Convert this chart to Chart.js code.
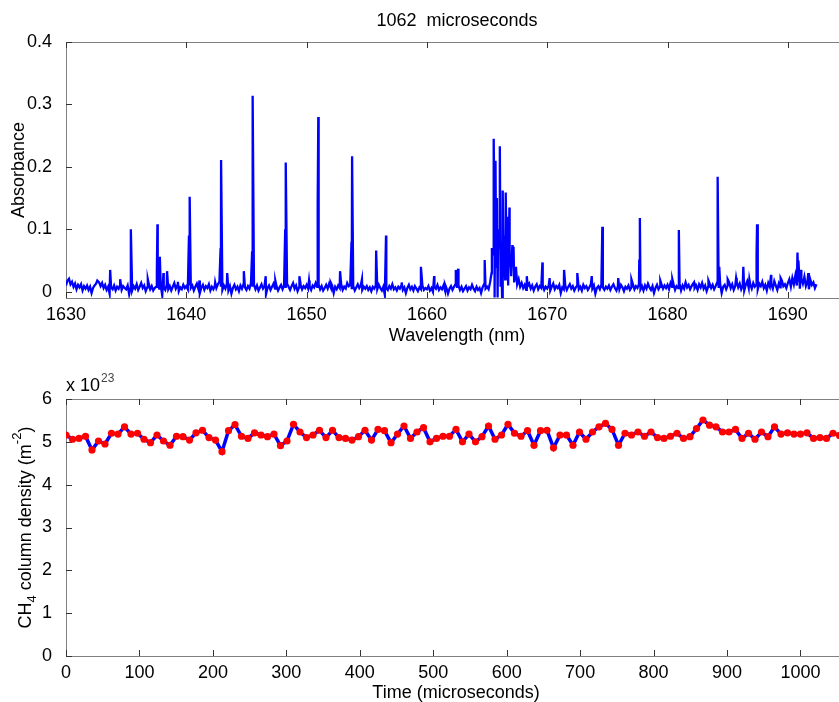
<!DOCTYPE html>
<html>
<head>
<meta charset="utf-8">
<title>Absorbance spectrum and CH4 column density</title>
<script src="https://cdn.jsdelivr.net/npm/chart.js@4.4.1/dist/chart.umd.min.js"></script>
<style>
  html, body { margin: 0; padding: 0; width: 839px; height: 702px; overflow: hidden; background: #fff; }
  canvas { position: absolute; left: 0; }
  #spectrum { top: 0; }
  #density { top: 350px; }
</style>
</head>
<body>
<canvas id="spectrum" width="850" height="350"></canvas>
<canvas id="density" width="850" height="354"></canvas>
<script>
// ---- top panel: absorbance spectrum ----
const spectrumTitle = '1062  microseconds'
const baselineStart = 1630
const baselineStep = 0.125
// noisy baseline, one value every 0.125 nm from 1630 nm (20 values = 2.5 nm per row)
const baselineAbs = [
  0.010, 0.018, 0.021, 0.012, 0.016, 0.008, 0.013, 0.004, 0.011, 0.007, 0.012, 0.002, 0.009, 0.005, 0.010, 0.003, 0.008, -0.002, 0.006, 0.010,
  0.013, 0.018, 0.015, 0.009, 0.014, 0.006, 0.011, 0.003, 0.008, -0.003, 0.007, 0.004, 0.010, 0.002, 0.008, 0.005, 0.011, 0.003, 0.009, 0.006,
  0.004, 0.010, -0.004, 0.007, 0.002, 0.009, 0.005, 0.012, 0.003, 0.008, 0.014, 0.006, 0.010, 0.001, 0.007, 0.013, 0.004, 0.009, 0.002, 0.006,
  0.008, 0.012, 0.005, 0.010, -0.006, 0.007, 0.003, 0.011, 0.004, 0.009, 0.002, 0.008, 0.014, 0.005, 0.010, 0.001, 0.007, 0.004, 0.011, 0.006,
  0.009, 0.004, 0.012, 0.006, 0.010, 0.002, 0.008, 0.013, 0.005, -0.002, 0.007, 0.011, 0.003, 0.009, 0.006, 0.012, 0.002, 0.008, 0.004, 0.010,
  0.006, 0.012, 0.016, 0.008, 0.003, 0.010, 0.005, 0.013, 0.002, 0.009, -0.003, 0.006, 0.011, 0.004, 0.008, 0.001, 0.010, 0.005, 0.012, 0.007,
  0.003, 0.009, 0.005, 0.014, 0.008, 0.011, 0.004, 0.010, 0.002, 0.007, 0.012, 0.005, 0.009, -0.004, 0.006, 0.010, 0.003, 0.008, 0.013, 0.005,
  0.009, 0.002, 0.007, 0.011, 0.004, 0.010, 0.006, 0.013, 0.008, 0.003, 0.009, 0.014, 0.005, 0.010, 0.001, 0.007, 0.012, 0.004, 0.009, 0.006,
  0.011, 0.005, 0.009, 0.003, 0.010, 0.007, 0.014, 0.008, 0.012, 0.004, 0.009, 0.002, 0.006, 0.011, 0.005, 0.013, 0.007, 0.010, -0.002, 0.008,
  0.004, 0.010, 0.006, 0.012, 0.003, 0.008, 0.005, 0.014, 0.009, 0.011, 0.004, 0.009, 0.002, 0.007, 0.012, 0.006, 0.010, 0.003, 0.008, 0.005,
  0.009, 0.003, 0.007, 0.001, 0.008, 0.005, 0.010, 0.004, 0.011, 0.006, 0.002, 0.008, -0.005, 0.006, 0.003, 0.009, 0.005, 0.012, 0.004, 0.007,
  0.002, 0.008, 0.005, 0.010, 0.003, 0.007, -0.002, 0.006, 0.011, 0.004, 0.008, 0.002, 0.009, 0.005, 0.001, 0.007, 0.004, 0.010, 0.003, 0.006,
  0.004, 0.009, 0.002, 0.006, 0.000, 0.008, 0.005, 0.011, 0.003, 0.007, 0.004, 0.010, 0.002, 0.006, -0.003, 0.005, 0.009, 0.003, 0.008, 0.012,
  0.006, 0.010, 0.003, 0.008, 0.001, 0.005, 0.009, 0.002, 0.007, 0.004, 0.011, 0.005, 0.001, 0.008, 0.003, 0.006, -0.002, 0.007, 0.012, 0.005,
  0.008, 0.004, 0.015, 0.030, 0.060, -0.009, 0.040, -0.009, 0.070, 0.010, -0.009, 0.045, 0.020, 0.055, 0.010, 0.040, 0.025, 0.045, 0.015, 0.030,
  0.012, 0.020, 0.008, 0.014, 0.006, 0.011, 0.003, 0.009, 0.013, 0.005, 0.010, 0.002, 0.008, 0.012, 0.004, 0.009, 0.006, 0.011, 0.003, 0.008,
  0.005, 0.010, 0.002, 0.008, 0.013, 0.004, 0.009, 0.006, 0.011, -0.002, 0.007, 0.004, 0.010, 0.003, 0.008, 0.012, 0.005, 0.009, 0.002, 0.007,
  0.010, 0.004, 0.008, 0.002, 0.011, 0.006, 0.009, 0.003, 0.007, 0.012, 0.005, 0.010, -0.003, 0.006, 0.009, 0.004, 0.011, 0.007, 0.003, 0.008,
  0.005, 0.010, 0.003, 0.008, 0.012, 0.006, 0.002, 0.009, 0.004, 0.011, 0.007, 0.001, 0.008, 0.005, 0.010, 0.003, 0.007, 0.012, 0.004, 0.009,
  0.006, 0.012, 0.004, 0.009, 0.002, 0.010, 0.005, 0.013, 0.007, 0.003, 0.009, -0.002, 0.006, 0.011, 0.004, 0.008, 0.012, 0.005, 0.010, 0.006,
  0.011, 0.004, 0.014, 0.008, 0.012, 0.003, 0.009, 0.006, 0.013, 0.002, 0.010, 0.005, 0.015, 0.007, 0.011, 0.004, 0.009, 0.013, 0.006, 0.010,
  0.003, 0.012, 0.007, 0.014, 0.005, 0.010, 0.001, 0.008, 0.013, 0.006, 0.011, 0.004, 0.009, 0.015, 0.006, 0.012, -0.002, 0.008, 0.011, 0.004,
  0.010, 0.015, 0.006, 0.012, 0.003, 0.009, 0.016, 0.007, 0.013, 0.004, 0.010, 0.002, 0.011, 0.017, 0.006, 0.012, 0.005, 0.014, 0.008, 0.011,
  0.004, 0.013, 0.009, 0.016, 0.006, 0.011, 0.002, 0.014, 0.008, 0.012, 0.005, 0.017, 0.010, 0.003, 0.013, 0.007, 0.018, 0.009, 0.012, 0.006,
  0.014, 0.020, 0.008, 0.022, 0.012, 0.026, 0.010, 0.018, 0.005, 0.021, 0.013, 0.024, 0.009, 0.016, 0.004, 0.019, 0.011, 0.015, 0.006, 0.012
]
// absorption lines (position in nm, peak absorbance)
const lineNm = [
  1632.6, 1633.67, 1634.5, 1635.39, 1636.8, 1637.55, 1637.6, 1637.8, 1638.1, 1638.4,
  1639.3, 1640.22, 1640.28, 1641.1, 1642.4, 1642.85, 1642.89, 1643.4, 1644.78, 1645.47,
  1645.53, 1646.6, 1647.4, 1648.22, 1648.28, 1649.4, 1650.2, 1650.92, 1650.97, 1652.0,
  1652.78, 1653.73, 1653.78, 1654.6, 1655.78, 1656.6, 1657.9, 1659.5, 1660.6, 1661.5,
  1662.4, 1662.6, 1664.8, 1665.4, 1665.55, 1665.62, 1665.7, 1665.82, 1665.92, 1666.06,
  1666.15, 1666.3, 1666.4, 1666.55, 1666.65, 1666.7, 1666.86, 1666.95, 1667.1, 1667.2,
  1667.4, 1668.3, 1669.6, 1670.2, 1671.4, 1672.5, 1673.7, 1674.58, 1675.9, 1677.0,
  1677.65, 1677.7, 1679.4, 1680.4, 1680.94, 1682.2, 1683.4, 1684.14, 1684.19, 1684.3,
  1685.0, 1685.7, 1686.3, 1686.8, 1687.4, 1687.44, 1688.6, 1689.4, 1690.8, 1690.88,
  1691.1, 1691.7
]
const lineAbs = [
  0.018, 0.035, 0.020, 0.100, 0.020, 0.030, 0.108, 0.056, 0.030, 0.033,
  0.016, 0.090, 0.152, 0.018, 0.015, 0.070, 0.211, 0.030, 0.033, 0.065,
  0.314, 0.025, 0.018, 0.100, 0.207, 0.025, 0.018, 0.140, 0.280, 0.015,
  0.033, 0.080, 0.217, 0.020, 0.066, 0.090, 0.015, 0.040, 0.025, 0.012,
  0.035, 0.037, 0.051, 0.070, 0.245, 0.120, 0.210, 0.150, 0.100, 0.233,
  0.080, 0.162, 0.090, 0.159, 0.060, 0.120, 0.135, 0.060, 0.075, 0.072,
  0.040, 0.025, 0.047, 0.022, 0.035, 0.030, 0.025, 0.104, 0.022, 0.020,
  0.050, 0.118, 0.018, 0.020, 0.099, 0.015, 0.018, 0.070, 0.184, 0.040,
  0.020, 0.022, 0.040, 0.020, 0.060, 0.108, 0.027, 0.022, 0.063, 0.050,
  0.035, 0.030
]
const wavelengthTicks = [1630, 1640, 1650, 1660, 1670, 1680, 1690]
const absorbanceTicks = [0, 0.1, 0.2, 0.3, 0.4]

// ---- bottom panel: CH4 column density, units of 10^23 m^-2 ----
const densityExponent = 23
const timeStep = 8.85
const columnDensity = [
  5.16, 5.06, 5.08, 5.13, 4.81, 5.02, 4.95, 5.20, 5.18, 5.35,
  5.18, 5.20, 5.06, 4.98, 5.16, 5.02, 4.92, 5.13, 5.12, 5.04,
  5.21, 5.27, 5.10, 5.04, 4.77, 5.26, 5.40, 5.13, 5.08, 5.21,
  5.16, 5.12, 5.18, 4.91, 5.02, 5.41, 5.23, 5.10, 5.16, 5.27,
  5.10, 5.27, 5.10, 5.08, 5.04, 5.12, 5.27, 5.04, 5.29, 5.26,
  4.98, 5.18, 5.37, 5.08, 5.23, 5.33, 5.00, 5.08, 5.13, 5.13,
  5.29, 5.00, 5.18, 5.00, 5.12, 5.37, 5.06, 5.16, 5.41, 5.20,
  5.13, 5.26, 4.92, 5.26, 5.27, 4.86, 5.16, 5.16, 4.92, 5.23,
  5.06, 5.23, 5.35, 5.43, 5.29, 4.92, 5.20, 5.16, 5.23, 5.13,
  5.23, 5.10, 5.08, 5.13, 5.20, 5.08, 5.12, 5.31, 5.51, 5.39,
  5.35, 5.23, 5.23, 5.29, 5.08, 5.20, 5.06, 5.23, 5.12, 5.35,
  5.18, 5.21, 5.18, 5.18, 5.21, 5.08, 5.10, 5.08, 5.20, 5.15,
  5.18
]
const timeTicks = [0, 100, 200, 300, 400, 500, 600, 700, 800, 900, 1000]
const densityTicks = [0, 1, 2, 3, 4, 5, 6]

const FAMILY = '"Liberation Sans", Arial, Helvetica, sans-serif'
Chart.defaults.font.family = FAMILY
Chart.defaults.font.size = 18
Chart.defaults.color = '#000'

// MATLAB-like box with inward ticks on all sides, drawn under the data
const boxAxes = {
  id: 'boxAxes',
  beforeDatasetsDraw(chart) {
    const { ctx, chartArea: a, scales } = chart
    ctx.save()
    ctx.lineWidth = 1
    ctx.strokeStyle = '#808080'
    ctx.strokeRect(Math.round(a.left) + 0.5, Math.round(a.top) + 0.5, Math.round(a.width), Math.round(a.height))
    ctx.strokeStyle = '#333'
    ctx.beginPath()
    scales.x.ticks.forEach(t => {
      const px = Math.round(scales.x.getPixelForValue(t.value)) + 0.5
      ctx.moveTo(px, a.bottom); ctx.lineTo(px, a.bottom - 6)
      ctx.moveTo(px, a.top); ctx.lineTo(px, a.top + 6)
    })
    scales.y.ticks.forEach(t => {
      const py = Math.round(scales.y.getPixelForValue(t.value)) + 0.5
      ctx.moveTo(a.left, py); ctx.lineTo(a.left + 6, py)
      ctx.moveTo(a.right, py); ctx.lineTo(a.right - 6, py)
    })
    ctx.stroke()
    ctx.restore()
  }
}

const spectrumCaption = {
  id: 'spectrumCaption',
  afterDraw(chart) {
    const { ctx, chartArea: a } = chart
    ctx.save()
    ctx.font = '18px ' + FAMILY
    ctx.fillStyle = '#000'
    ctx.textAlign = 'center'
    ctx.textBaseline = 'middle'
    ctx.fillText(spectrumTitle, (a.left + a.right) / 2, 21)
    ctx.restore()
  }
}

// exponent label and the y title with sub/superscripts
const densityCaption = {
  id: 'densityCaption',
  afterDraw(chart) {
    const { ctx, chartArea: a } = chart
    const big = '18px ' + FAMILY
    const small = '13px ' + FAMILY
    ctx.save()
    ctx.fillStyle = '#000'
    ctx.font = big
    ctx.fillText('x 10', a.left, a.top - 8)
    const w = ctx.measureText('x 10').width
    ctx.font = '12px ' + FAMILY
    ctx.fillStyle = '#444'
    ctx.fillText(String(densityExponent), a.left + w + 1, a.top - 17)

    ctx.fillStyle = '#000'
    const parts = [['CH', 0, big], ['4', 6, small], [' column density (m', 0, big], ['-2', -9, small], [')', 0, big]]
    let total = 0
    parts.forEach(p => { ctx.font = p[2]; total += ctx.measureText(p[0]).width })
    ctx.translate(26, (a.top + a.bottom) / 2)
    ctx.rotate(-Math.PI / 2)
    ctx.textBaseline = 'middle'
    let x = -total / 2
    parts.forEach(p => {
      ctx.font = p[2]
      ctx.fillText(p[0], x, p[1])
      x += ctx.measureText(p[0]).width
    })
    ctx.restore()
  }
}

const spectrumPoints = baselineAbs
  .map((v, i) => ({ x: baselineStart + i * baselineStep, y: v }))
  .concat(lineNm.map((nm, i) => ({ x: nm, y: lineAbs[i] })))
  .sort((p, q) => p.x - q.x)

new Chart(document.getElementById('spectrum'), {
  type: 'line',
  data: {
    datasets: [{
      data: spectrumPoints,
      borderColor: '#0000ff',
      borderWidth: 2.3,
      pointRadius: 0,
      tension: 0,
    }],
  },
  options: {
    responsive: false,
    animation: false,
    layout: { padding: { top: 42, right: 2, bottom: 3, left: 0 } },
    plugins: { legend: { display: false }, tooltip: { enabled: false } },
    scales: {
      x: {
        type: 'linear', min: 1630, max: 1695,
        grid: { display: false }, border: { display: false },
        ticks: { padding: -2, maxRotation: 0, callback: v => String(v) },
        afterBuildTicks: s => { s.ticks = wavelengthTicks.map(v => ({ value: v })) },
        afterFit: s => { s.height = 49 },
        title: { display: true, text: 'Wavelength (nm)', padding: 0 },
      },
      y: {
        min: -0.01, max: 0.4,
        grid: { display: false }, border: { display: false },
        ticks: { padding: 6, callback: v => String(v) },
        afterBuildTicks: s => { s.ticks = absorbanceTicks.map(v => ({ value: v })) },
        afterFit: s => { s.width = 66 },
        title: { display: true, text: 'Absorbance', padding: { top: 8, bottom: 0 } },
      },
    },
  },
  plugins: [boxAxes, spectrumCaption],
})

new Chart(document.getElementById('density'), {
  type: 'line',
  data: {
    datasets: [{
      data: columnDensity.map((v, i) => ({ x: i * timeStep, y: v })),
      borderColor: '#0000ff',
      borderWidth: 3.5,
      pointRadius: 3.6,
      pointBackgroundColor: '#ff0000',
      pointBorderWidth: 0,
      tension: 0,
    }],
  },
  options: {
    responsive: false,
    animation: false,
    layout: { padding: { top: 49, right: 2, bottom: 0, left: 0 } },
    plugins: { legend: { display: false }, tooltip: { enabled: false } },
    scales: {
      x: {
        type: 'linear', min: 0, max: 1062,
        grid: { display: false }, border: { display: false },
        ticks: { padding: -2, maxRotation: 0, callback: v => String(v) },
        afterBuildTicks: s => { s.ticks = timeTicks.map(v => ({ value: v })) },
        afterFit: s => { s.height = 48 },
        title: { display: true, text: 'Time (microseconds)', padding: 0 },
      },
      y: {
        min: 0, max: 6,
        grid: { display: false }, border: { display: false },
        ticks: { padding: 6, callback: v => String(v) },
        afterBuildTicks: s => { s.ticks = densityTicks.map(v => ({ value: v })) },
        afterFit: s => { s.width = 66 },
      },
    },
  },
  plugins: [boxAxes, densityCaption],
})
</script>
</body>
</html>
